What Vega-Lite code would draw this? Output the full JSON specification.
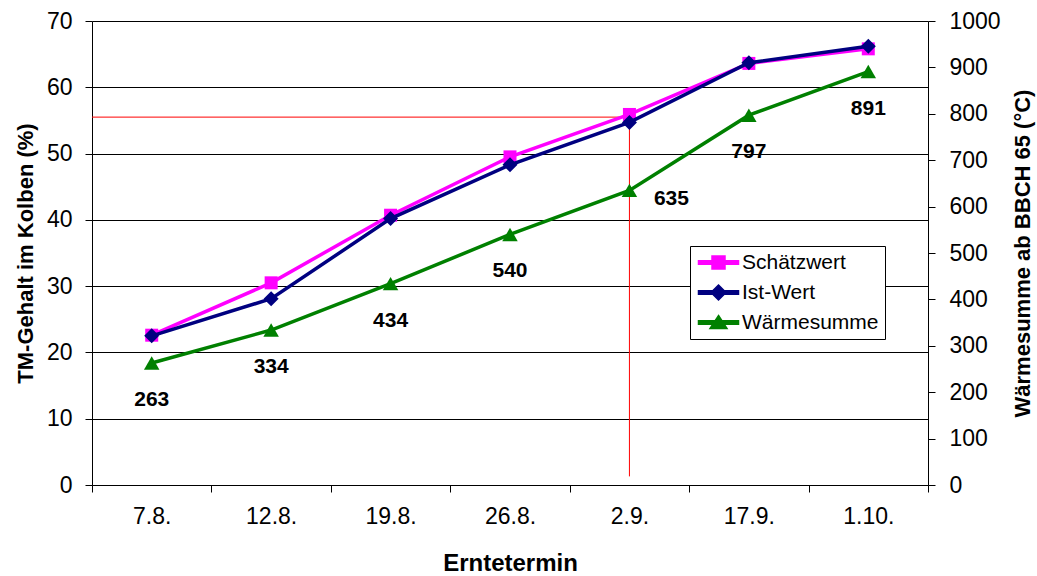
{
  "$schema": "https://vega.github.io/schema/vega-lite/v6.json",
  "width": 836,
  "height": 464,
  "autosize": {"type": "none"},
  "padding": {"left": 92, "top": 21, "right": 109, "bottom": 91},
  "background": "white",
  "config": {
    "font": "Liberation Sans",
    "view": {"stroke": null},
    "axis": {
      "labelFont": "Liberation Sans", "titleFont": "Liberation Sans",
      "labelFontSize": 23, "titleFontSize": 22, "titleFontWeight": "bold",
      "labelColor": "black", "titleColor": "black",
      "domainColor": "black", "tickColor": "black", "gridColor": "black",
      "gridOpacity": 1, "domainWidth": 1, "tickWidth": 1, "gridWidth": 1
    }
  },
  "datasets": {
    "tm": [
      {"date": "7.8.", "series": "Schätzwert", "value": 22.6},
      {"date": "12.8.", "series": "Schätzwert", "value": 30.5},
      {"date": "19.8.", "series": "Schätzwert", "value": 40.7},
      {"date": "26.8.", "series": "Schätzwert", "value": 49.5},
      {"date": "2.9.", "series": "Schätzwert", "value": 55.9},
      {"date": "17.9.", "series": "Schätzwert", "value": 63.6},
      {"date": "1.10.", "series": "Schätzwert", "value": 65.8},
      {"date": "7.8.", "series": "Ist-Wert", "value": 22.5},
      {"date": "12.8.", "series": "Ist-Wert", "value": 28.1},
      {"date": "19.8.", "series": "Ist-Wert", "value": 40.2},
      {"date": "26.8.", "series": "Ist-Wert", "value": 48.3},
      {"date": "2.9.", "series": "Ist-Wert", "value": 54.7},
      {"date": "17.9.", "series": "Ist-Wert", "value": 63.7},
      {"date": "1.10.", "series": "Ist-Wert", "value": 66.2}
    ],
    "warm": [
      {"date": "7.8.", "series": "Wärmesumme", "value": 263},
      {"date": "12.8.", "series": "Wärmesumme", "value": 334},
      {"date": "19.8.", "series": "Wärmesumme", "value": 434},
      {"date": "26.8.", "series": "Wärmesumme", "value": 540},
      {"date": "2.9.", "series": "Wärmesumme", "value": 635},
      {"date": "17.9.", "series": "Wärmesumme", "value": 797},
      {"date": "1.10.", "series": "Wärmesumme", "value": 891}
    ],
    "hline": [{"from": "7.8.", "to": "2.9.", "tm": 55.5}],
    "vline": [{"at": "2.9.", "top": 55.5, "bottom": 1.3}]
  },
  "layer": [
    {
      "layer": [
        {
          "data": {"name": "hline"},
          "mark": {"type": "rule", "color": "#FF0000", "strokeWidth": 1},
          "encoding": {
            "x": {"field": "from", "type": "nominal", "bandPosition": 0,
              "scale": {"type": "band", "domain": ["7.8.", "12.8.", "19.8.", "26.8.", "2.9.", "17.9.", "1.10."], "paddingInner": 0, "paddingOuter": 0},
              "axis": {"title": "Erntetermin", "titleFontSize": 24, "labelAngle": 0, "tickBand": "extent", "tickSize": 7, "labelPadding": 13, "titlePadding": 23, "grid": false}},
            "x2": {"field": "to", "bandPosition": 0.5},
            "y": {"field": "tm", "type": "quantitative",
              "scale": {"domain": [0, 70], "nice": false, "zero": true},
              "axis": {"title": "TM-Gehalt im Kolben (%)", "values": [0, 10, 20, 30, 40, 50, 60, 70], "grid": true, "tickSize": 7, "labelPadding": 13, "titlePadding": 9}}
          }
        },
        {
          "data": {"name": "vline"},
          "mark": {"type": "rule", "color": "#FF0000", "strokeWidth": 1},
          "encoding": {
            "x": {"field": "at", "type": "nominal", "bandPosition": 0.5},
            "y": {"field": "top", "type": "quantitative"},
            "y2": {"field": "bottom"}
          }
        },
        {
          "data": {"name": "tm"},
          "transform": [{"filter": "datum.series === 'Schätzwert'"}],
          "mark": {"type": "line", "strokeWidth": 3.5, "point": {"shape": "square", "size": 169, "filled": true, "opacity": 1}},
          "encoding": {
            "x": {"field": "date", "type": "nominal", "bandPosition": 0.5},
            "y": {"field": "value", "type": "quantitative"},
            "color": {"field": "series", "type": "nominal",
              "scale": {"domain": ["Schätzwert", "Ist-Wert", "Wärmesumme"], "range": ["#FF00FF", "#000080", "#008000"]},
              "legend": {"title": null, "orient": "none", "legendX": 598, "legendY": 225, "direction": "vertical", "padding": 6, "strokeColor": "black", "fillColor": "white", "labelFont": "Liberation Sans", "labelFontSize": 21, "labelColor": "black", "symbolSize": 100, "symbolOffset": 12, "labelOffset": 13, "rowPadding": 8,
                "encode": {"symbols": {"update": {
                  "shape": {"signal": "datum.value === 'Schätzwert' ? 'M-4,-0.35H4V0.35H-4Z M-1.3,-1.3H1.3V1.3H-1.3Z' : datum.value === 'Ist-Wert' ? 'M-4,-0.35H4V0.35H-4Z M0,-1.5L1.5,0L0,1.5L-1.5,0Z' : 'M-4,-0.35H4V0.35H-4Z M0,-1.4L1.7,1.2L-1.7,1.2Z'"},
                  "fill": {"signal": "scale('color', datum.value)"},
                  "stroke": {"value": "transparent"},
                  "opacity": {"value": 1}
                }}}}
            }
          }
        },
        {
          "data": {"name": "tm"},
          "transform": [{"filter": "datum.series === 'Ist-Wert'"}],
          "mark": {"type": "line", "strokeWidth": 3.5, "point": {"shape": "diamond", "size": 225, "filled": true, "opacity": 1}},
          "encoding": {
            "x": {"field": "date", "type": "nominal", "bandPosition": 0.5},
            "y": {"field": "value", "type": "quantitative"},
            "color": {"field": "series", "type": "nominal"}
          }
        }
      ]
    },
    {
      "data": {"name": "warm"},
      "encoding": {
        "x": {"field": "date", "type": "nominal", "bandPosition": 0.5},
        "y": {"field": "value", "type": "quantitative",
          "scale": {"domain": [0, 1000], "nice": false},
          "axis": {"orient": "right", "title": "Wärmesumme ab BBCH 65 (°C)", "format": "d", "values": [0, 100, 200, 300, 400, 500, 600, 700, 800, 900, 1000], "grid": false, "tickSize": 7, "labelPadding": 14, "titlePadding": 12, "titleAngle": 270, "titleBaseline": "top"}}
      },
      "layer": [
        {
          "mark": {"type": "line", "strokeWidth": 3.5, "point": {"shape": "triangle-up", "size": 240, "filled": true, "opacity": 1}},
          "encoding": {"color": {"field": "series", "type": "nominal"}}
        },
        {
          "transform": [{"filter": "datum.value !== 635"}],
          "mark": {"type": "text", "font": "Liberation Sans", "fontWeight": "bold", "fontSize": 21, "color": "black", "align": "center", "baseline": "middle", "dy": 37},
          "encoding": {"text": {"field": "value", "type": "quantitative"}}
        },
        {
          "transform": [{"filter": "datum.value === 635"}],
          "mark": {"type": "text", "font": "Liberation Sans", "fontWeight": "bold", "fontSize": 21, "color": "black", "align": "center", "baseline": "middle", "dx": 42, "dy": 9},
          "encoding": {"text": {"field": "value", "type": "quantitative"}}
        }
      ]
    }
  ],
  "resolve": {"scale": {"y": "independent"}}
}
